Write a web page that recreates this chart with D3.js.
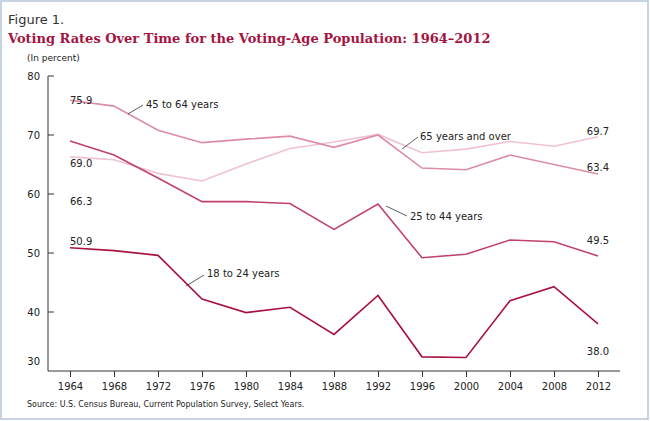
<!DOCTYPE html>
<html><head><meta charset="utf-8">
<script src="https://cdn.jsdelivr.net/npm/d3@7"></script>
<style>body{margin:0;background:#fff}text{font-family:"DejaVu Sans",sans-serif}</style>
</head><body><svg id="c" width="650" height="421"></svg>
<script>
const years=[1964,1968,1972,1976,1980,1984,1988,1992,1996,2000,2004,2008,2012];
const s4564=[75.9,74.9,70.8,68.7,69.3,69.8,67.9,70.0,64.4,64.1,66.6,65.0,63.4];
const s65=[66.3,65.8,63.5,62.2,65.1,67.7,68.8,70.1,67.0,67.6,68.9,68.1,69.7];
const s2544=[69.0,66.6,62.7,58.7,58.7,58.4,54.0,58.3,49.2,49.8,52.2,51.9,49.5];
const s1824=[50.9,50.4,49.6,42.2,39.9,40.8,36.2,42.8,32.4,32.3,41.9,44.3,38.0];
const yTicks=[30,40,50,60,70,80];
const svg=d3.select("#c");
svg.append("rect").attr("x",1).attr("y",1).attr("width",647).attr("height",418).attr("fill","none").attr("stroke","#b8c4d8").attr("stroke-width",1.5);
const x=d3.scaleLinear().domain([1964,2012]).range([70,598]);
const y=d3.scaleLinear().domain([30,80]).range([371,76]);
svg.append("text").attr("x",8).attr("y",24).attr("font-size",13).attr("fill","#333").text("Figure 1.");
svg.append("text").attr("x",8).attr("y",43).attr("font-size",13).attr("font-weight","bold").attr("fill","#a3153f").style("font-family","DejaVu Serif").text("Voting Rates Over Time for the Voting-Age Population: 1964–2012");
svg.append("text").attr("x",27).attr("y",61).attr("font-size",9).attr("fill","#222").text("(In percent)");
const gy=svg.append("g").attr("transform","translate(48,0)").call(d3.axisLeft(y).tickValues(yTicks).tickSize(0).tickPadding(8));
gy.select(".domain").attr("d","M0,76V371");
gy.selectAll(".tick").filter(d=>d===30).select("text").attr("dy","-0.7em");
const gx=svg.append("g").attr("transform","translate(0,371)").call(d3.axisBottom(x).tickValues(years).tickFormat(d3.format("d")).tickSize(6).tickPadding(6));
gx.select(".domain").attr("d","M48,0H620");
svg.selectAll(".tick text").attr("font-size",10).attr("fill","#222");
svg.selectAll(".domain,.tick line").attr("stroke","#333");
svg.append("g").selectAll("line").data(yTicks.slice(1)).join("line").attr("x1",48).attr("x2",54).attr("y1",d=>y(d)).attr("y2",d=>y(d)).attr("stroke","#333");
const line=d3.line().x((d,i)=>x(years[i])).y(d=>y(d));
const series=[[s65,"#f0c2cf"],[s4564,"#dc8ca4"],[s2544,"#c2416b"],[s1824,"#a8143f"]];
series.forEach(([s,c])=>svg.append("path").attr("d",line(s)).attr("fill","none").attr("stroke",c).attr("stroke-width",1.6));
const lab=(t,xx,yy,a="start")=>svg.append("text").attr("x",xx).attr("y",yy).attr("font-size",10).attr("fill","#222").attr("text-anchor",a).text(t);
const con=(x1,y1,x2,y2)=>svg.append("line").attr("x1",x1).attr("y1",y1).attr("x2",x2).attr("y2",y2).attr("stroke","#333").attr("stroke-width",0.8);
lab("75.9",70,104);lab("69.0",70,167);lab("66.3",70,205);lab("50.9",70,245);
lab("69.7",598,135,"middle");lab("63.4",598,171,"middle");lab("49.5",598,244,"middle");lab("38.0",598,355,"middle");
lab("45 to 64 years",146,108);con(128,114,143,105);
lab("65 years and over",420,140);con(402,149,418,137);
lab("25 to 44 years",410,220);con(386,206,407,216);
lab("18 to 24 years",207,277);con(186,286,204,275);
svg.append("text").attr("x",27).attr("y",407).attr("font-size",8).attr("fill","#222").text("Source: U.S. Census Bureau, Current Population Survey, Select Years.");
</script></body></html>
